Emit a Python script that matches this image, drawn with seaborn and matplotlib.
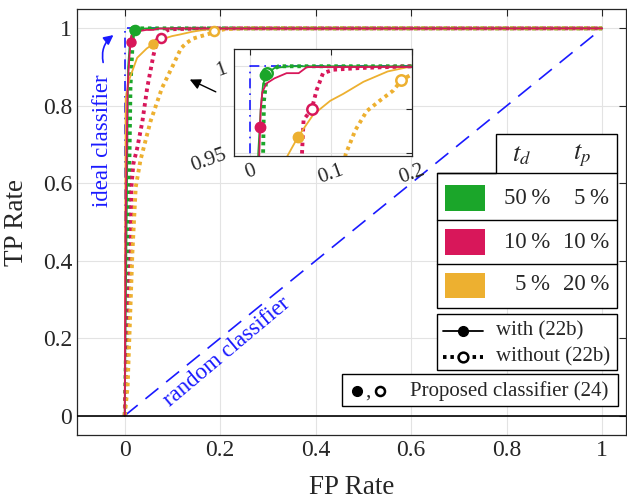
import matplotlib
matplotlib.use('Agg')
import matplotlib.pyplot as plt
from matplotlib.patches import Rectangle, Polygon
from matplotlib.lines import Line2D
import seaborn as sns
import pandas as pd

# ROC curves (FP rate, TP rate)
green_solid_fp = [0, 0.004, 0.007, 0.010, 0.013, 0.016, 0.022, 0.030, 0.050, 1.0]
green_solid_tp = [0, 0.50, 0.90, 0.95, 0.975, 0.990, 0.996, 0.999, 1.0, 1.0]
green_dot_fp = [0, 0.008, 0.012, 0.016, 0.017, 0.020, 0.025, 0.035, 1.0]
green_dot_tp = [0, 0.50, 0.85, 0.95, 0.980, 0.992, 0.997, 1.0, 1.0]
red_solid_fp = [0, 0.002, 0.006, 0.010, 0.012, 0.013, 0.015, 0.020, 0.030, 0.045, 0.060, 0.070, 1.0]
red_solid_tp = [0, 0.50, 0.85, 0.93, 0.96, 0.975, 0.985, 0.990, 0.993, 0.996, 0.996, 0.9995, 1.0]
red_dot_fp = [0, 0.002, 0.008, 0.0125, 0.014, 0.018, 0.026, 0.037, 0.047, 0.060, 0.064,
              0.066, 0.076, 0.082, 0.090, 0.103, 0.136, 0.20, 1.0]
red_dot_tp = [0, 0.075, 0.30, 0.42, 0.59, 0.65, 0.69, 0.76, 0.846, 0.93, 0.949,
              0.969, 0.975, 0.986, 0.996, 0.998, 0.999, 1.0, 1.0]
orange_solid_fp = [0, 0.001, 0.002, 0.010, 0.026, 0.046, 0.059, 0.078, 0.099, 0.115, 0.140, 0.170, 0.200, 1.0]
orange_solid_tp = [0, 0.50, 0.82, 0.87, 0.924, 0.948, 0.959, 0.972, 0.980, 0.984, 0.991, 0.997, 1.0, 1.0]
orange_dot_fp = [0, 0.006, 0.016, 0.023, 0.033, 0.054, 0.078, 0.102, 0.118, 0.130,
                 0.144, 0.160, 0.177, 0.187, 0.210, 0.250, 1.0]
orange_dot_tp = [0, 0.075, 0.42, 0.59, 0.66, 0.76, 0.846, 0.907, 0.949, 0.963,
                 0.974, 0.980, 0.986, 0.992, 0.998, 1.0, 1.0]

# proposed classifier operating points (with / without)
green_pt = [(0.0185, 0.995), (0.021, 0.996)]
red_pt = [(0.0123, 0.965), (0.076, 0.975)]
orange_pt = [(0.059, 0.959), (0.187, 0.992)]

ideal_fp = [0, 0, 1]
ideal_tp = [0, 1, 1]
random_fp = [0, 1]
random_tp = [0, 1]

td_labels = ['50\u2009%', '10\u2009%', '5\u2009%']
tp_labels = ['5\u2009%', '10\u2009%', '20\u2009%']

GREEN = '#1ba62a'
RED = '#d8175a'
ORANGE = '#edb030'
BLUE = '#1a1aff'
DARK = '#262626'

curves = [
    (green_dot_fp, green_dot_tp, GREEN, 'dot'),
    (red_dot_fp, red_dot_tp, RED, 'dot'),
    (orange_dot_fp, orange_dot_tp, ORANGE, 'dot'),
    (orange_solid_fp, orange_solid_tp, ORANGE, 'solid'),
    (green_solid_fp, green_solid_tp, GREEN, 'solid'),
    (red_solid_fp, red_solid_tp, RED, 'solid'),
]
points = [(green_pt, GREEN), (red_pt, RED), (orange_pt, ORANGE)]

sns.set_theme(style='whitegrid')
plt.rcParams['font.family'] = ['Liberation Serif', 'DejaVu Serif']
plt.rcParams['mathtext.fontset'] = 'stix'

W, H = 627, 499
fig = plt.figure(figsize=(W / 100, H / 100), dpi=100)
fig.patch.set_facecolor('white')


def fx(x):
    return x / W


def fy(y):
    return 1 - y / H


def draw_curves(ax, ms):
    sns.lineplot(x=ideal_fp, y=ideal_tp, sort=False, ax=ax, color=BLUE, lw=1.2,
                 linestyle=(0, (6, 3, 1, 3)), estimator=None)
    sns.lineplot(x=random_fp, y=random_tp, sort=False, ax=ax, color=BLUE, lw=1.2,
                 linestyle=(0, (10, 6)), estimator=None)
    for fp, tp, c, st in curves:
        if st == 'dot':
            sns.lineplot(x=fp, y=tp, sort=False, ax=ax, color=c, lw=2.8,
                         linestyle=(0, (0.9, 1.0)), estimator=None)
        else:
            sns.lineplot(x=fp, y=tp, sort=False, ax=ax, color=c, lw=1.3, estimator=None)
    for pts, c in points:
        ax.plot(pts[1][0], pts[1][1], 'o', ms=ms, mfc='white', mec=c, mew=1.8, zorder=5)
        ax.plot(pts[0][0], pts[0][1], 'o', ms=ms, mfc=c, mec=c, zorder=6)


def style_axes(ax, size):
    ax.set_facecolor('white')
    for s in ax.spines.values():
        s.set_color(DARK)
        s.set_linewidth(0.9)
    ax.grid(True, color='#e3e3e3', lw=0.8)
    ax.tick_params(direction='in', top=True, right=True, length=5, width=0.8,
                   color=DARK, labelcolor=DARK, labelsize=size)
    ax.xaxis.set_major_formatter(plt.FuncFormatter(lambda v, p: '{:g}'.format(round(v, 3))))
    ax.yaxis.set_major_formatter(plt.FuncFormatter(lambda v, p: '{:g}'.format(round(v, 3))))


# main axes
ax = fig.add_axes([fx(77), fy(435), (626 - 77) / W, (435 - 9) / H])
style_axes(ax, 17)
draw_curves(ax, 6.5)
ax.axhline(0, color='black', lw=1.2, zorder=3)
ax.set_xlim(-0.1, 1.05)
ax.set_ylim(-0.05, 1.05)
ax.set_xticks([0, 0.2, 0.4, 0.6, 0.8, 1])
ax.set_yticks([0, 0.2, 0.4, 0.6, 0.8, 1])
ax.set_xlabel('FP Rate', fontsize=19.5, color=DARK)
ax.set_ylabel('TP Rate', fontsize=19.5, color=DARK)
ax.xaxis.set_label_coords(0.5, -0.095)
ax.yaxis.set_label_coords(-0.087, 0.5)

ax.text(-0.046, 0.71, 'ideal classifier', color=BLUE, fontsize=16.5, rotation=90,
        ha='center', va='center')
ax.annotate('', xy=(-0.019, 0.987), xytext=(-0.044, 0.905),
            arrowprops=dict(arrowstyle='-|>', color=BLUE, lw=1.2,
                            connectionstyle='arc3,rad=-0.35', mutation_scale=14))
ax.text(0.215, 0.165, 'random classifier', color=BLUE, fontsize=16.5, rotation=40,
        ha='center', va='center', rotation_mode='anchor')
ax.annotate('', xy=(0.131, 0.871), xytext=(0.196, 0.833),
            arrowprops=dict(arrowstyle='-|>', color='black', lw=1.0, mutation_scale=16))

# inset zoom
axi = fig.add_axes([fx(234), fy(156), (412 - 234) / W, (156 - 49) / H])
style_axes(axi, 15)
draw_curves(axi, 7.5)
axi.set_xlim(-0.02, 0.2)
axi.set_ylim(0.948, 1.01)
axi.set_xticks([0, 0.1, 0.2])
axi.set_yticks([0.95, 0.975, 1])
axi.set_yticklabels(['0.95', '', '1'])
axi.tick_params(length=4)
for t in axi.get_xticklabels() + axi.get_yticklabels():
    t.set_rotation(20)
axi.set_xlabel('')
axi.set_ylabel('')

# legend 1: colour table
lw_box = 1.0
fig.add_artist(Polygon([(fx(437), fy(173)), (fx(496), fy(173)), (fx(496), fy(134)),
                        (fx(617), fy(134)), (fx(617), fy(308)), (fx(437), fy(308))],
                       closed=True, facecolor='white', edgecolor='black', lw=lw_box,
                       transform=fig.transFigure, zorder=10))
for yy in [173, 220, 264]:
    fig.add_artist(Line2D([fx(437), fx(617)], [fy(yy), fy(yy)], color='black', lw=lw_box,
                          transform=fig.transFigure, zorder=11))
fig.text(fx(522), fy(156), '$t_d$', fontsize=19, ha='center', va='center', zorder=12)
fig.text(fx(582), fy(156), '$t_p$', fontsize=19, ha='center', va='center', zorder=12)
row_y = [198, 242, 285]
for c, y0, a, b in zip([GREEN, RED, ORANGE], row_y, td_labels, tp_labels):
    fig.add_artist(Rectangle((fx(445), fy(y0 + 12.5)), 40 / W, 25 / H, facecolor=c,
                             edgecolor='none', transform=fig.transFigure, zorder=12))
    fig.text(fx(550), fy(y0), a, fontsize=16.5, ha='right', va='center', zorder=12)
    fig.text(fx(609), fy(y0), b, fontsize=16.5, ha='right', va='center', zorder=12)

# legend 2: line styles
fig.add_artist(Rectangle((fx(437), fy(370)), 180 / W, 56 / H, facecolor='white',
                         edgecolor='black', lw=lw_box, transform=fig.transFigure, zorder=10))
fig.add_artist(Line2D([fx(443), fx(483)], [fy(331), fy(331)], color='black', lw=1.3,
                      transform=fig.transFigure, zorder=12))
fig.add_artist(Line2D([fx(463)], [fy(331)], color='black', lw=0, marker='o', ms=7,
                      transform=fig.transFigure, zorder=13))
fig.add_artist(Line2D([fx(443), fx(483)], [fy(357), fy(357)], color='black', lw=2.8,
                      linestyle=(0, (0.9, 1.0)), transform=fig.transFigure, zorder=12))
fig.add_artist(Line2D([fx(463)], [fy(357)], color='black', lw=0, marker='o', ms=7,
                      mfc='white', mew=1.8, transform=fig.transFigure, zorder=13))
fig.text(fx(496), fy(331), 'with (22b)', fontsize=15, ha='left', va='center', zorder=12)
fig.text(fx(496), fy(357), 'without (22b)', fontsize=15, ha='left', va='center', zorder=12)

# legend 3: proposed classifier
fig.add_artist(Rectangle((fx(342), fy(406)), 276 / W, 32 / H, facecolor='white',
                         edgecolor='black', lw=lw_box, transform=fig.transFigure, zorder=10))
fig.add_artist(Line2D([fx(357)], [fy(391)], color='black', lw=0, marker='o', ms=7,
                      transform=fig.transFigure, zorder=12))
fig.text(fx(368), fy(392), ',', fontsize=15, ha='center', va='center', zorder=12)
fig.add_artist(Line2D([fx(380)], [fy(391)], color='black', lw=0, marker='o', ms=6.5,
                      mfc='white', mew=1.8, transform=fig.transFigure, zorder=12))
fig.text(fx(410), fy(391), 'Proposed classifier (24)', fontsize=15, ha='left', va='center',
         zorder=12)

fig.savefig('out.png', dpi=100, facecolor='white')
